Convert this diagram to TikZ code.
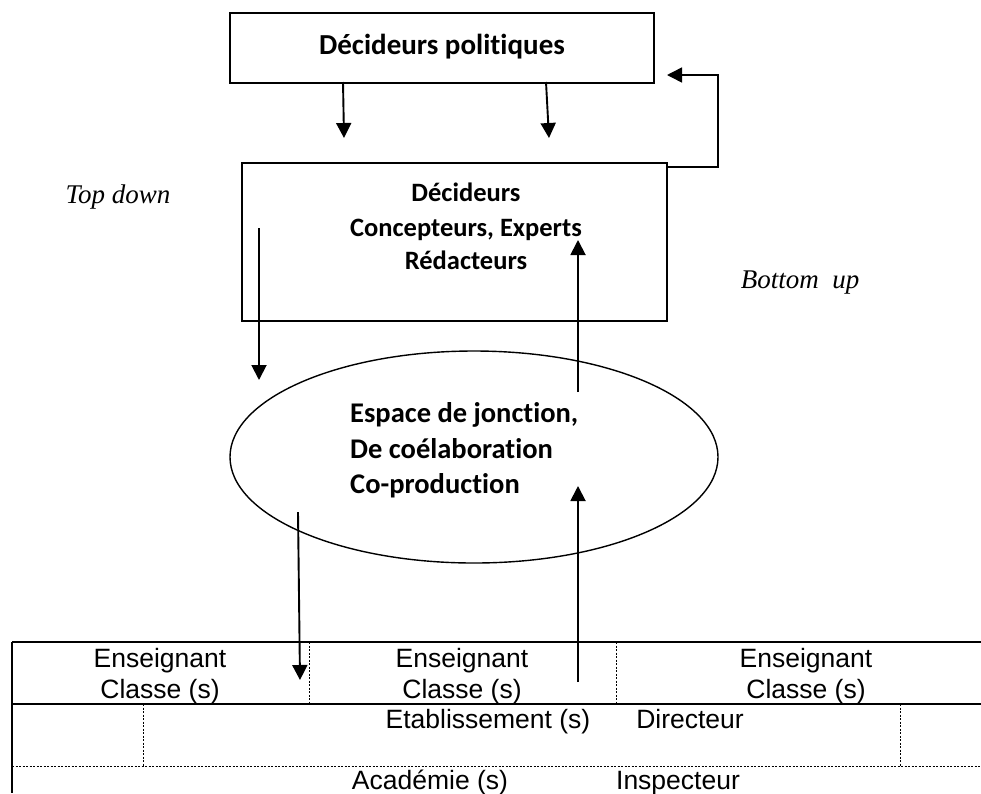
\documentclass[tikz,border=0pt]{standalone}
\usepackage{fontspec}
\setmainfont{Liberation Sans}
\newfontfamily\calb{Carlito}[RawFeature=-liga]
\newfontfamily\tms{Liberation Serif}
\usetikzlibrary{shapes.geometric,arrows.meta}
\begin{document}
\begin{tikzpicture}[x=1pt,y=-1pt,
  boxst/.style={draw,line width=1.8pt,inner sep=0pt},
  btext/.style={font=\calb\bfseries\fontsize{#1}{#1}\selectfont,anchor=base,inner sep=0pt},
  etext/.style={font=\calb\bfseries\fontsize{28.5}{28.5}\selectfont,anchor=base west,inner sep=0pt},
  ttext/.style={font=\fontsize{26.5}{26.5}\selectfont,anchor=base,inner sep=0pt},
  itext/.style={font=\tms\itshape\fontsize{27}{27}\selectfont,inner sep=0pt},
  arr/.style={line width=1.9pt,-{Triangle[length=15pt,width=15pt]}},
  farr/.style={line width=1.5pt,-{Triangle[length=15pt,width=15pt]}},
  solidl/.style={line width=1.9pt},
  dashl/.style={line width=0.8pt,dash pattern=on 2pt off 1.5pt}]
\useasboundingbox (0,0) rectangle (981,793);
\fill[white] (0,0) rectangle (981,793);
% top box
\node[boxst,minimum width=424pt,minimum height=70pt] (b1) at (442,48) {};
\node[btext=29] (t1) at (442,54) {Décideurs politiques};
% second box
\node[boxst,minimum width=425pt,minimum height=158pt] (b2) at (454.5,242) {};
\node[btext=26.5] (t2a) at (466,201) {Décideurs};
\node[btext=26.5] (t2b) at (466,236) {Concepteurs, Experts};
\node[btext=26.5] (t2c) at (466,269) {Rédacteurs};
% ellipse
\node[draw,ellipse,line width=1.4pt,minimum width=488pt,minimum height=212pt,inner sep=0pt] (e) at (474,457) {};
\node[etext] (e1) at (350,422) {Espace de jonction,};
\node[etext] (e2) at (350,458) {De coélaboration};
\node[etext] (e3) at (350,493) {Co-production};
% labels
\node[itext] (td) at (118,197) {Top down};
\node[itext] (bu) at (800,283) {Bottom\ \ up};
% arrow coordinates
\coordinate (a1s) at (343,82);  \coordinate (a1e) at (344,138);
\coordinate (a2s) at (546,82);  \coordinate (a2e) at (549,138);
\coordinate (a3s) at (259,228); \coordinate (a3e) at (259,380);
\coordinate (a4s) at (578,392); \coordinate (a4e) at (578,240);
\coordinate (a5s) at (298,512); \coordinate (a5e) at (300,680);
\coordinate (a6s) at (578,682); \coordinate (a6e) at (578,486);
\coordinate (f0) at (667,167); \coordinate (f1) at (718,167);
\coordinate (f2) at (718,75);  \coordinate (f3) at (667,75);
\draw[arr] (a1s) -- (a1e);
\draw[arr] (a2s) -- (a2e);
\draw[arr] (a3s) -- (a3e);
\draw[arr] (a4s) -- (a4e);
\draw[arr] (a5s) -- (a5e);
\draw[arr] (a6s) -- (a6e);
\draw[farr] (f0) -- (f1) -- (f2) -- (f3);
% table
\coordinate (tl) at (12,642); \coordinate (tr) at (981,642);
\coordinate (ml) at (12,704); \coordinate (mr) at (981,704);
\coordinate (dl) at (12,766); \coordinate (dr) at (981,766);
\coordinate (bl) at (12,793);
\draw[solidl] (tl) -- (tr);
\draw[solidl] (ml) -- (mr);
\draw[solidl] (tl) -- (bl);
\draw[dashl] (dl) -- (dr);
\draw[dashl] (309,642) -- (309,704);
\draw[dashl] (616,642) -- (616,704);
\draw[dashl] (143,704) -- (143,766);
\draw[dashl] (900,704) -- (900,766);
\node[ttext] (c1a) at (160,667) {Enseignant};
\node[ttext] (c1b) at (160,698) {Classe (s)};
\node[ttext] (c2a) at (462,667) {Enseignant};
\node[ttext] (c2b) at (462,698) {Classe (s)};
\node[ttext] (c3a) at (806,667) {Enseignant};
\node[ttext] (c3b) at (806,698) {Classe (s)};
\node[ttext] (r2a) at (488,728) {Etablissement (s)};
\node[ttext] (r2b) at (690,728) {Directeur};
\node[ttext] (r3a) at (430,789) {Académie (s)};
\node[ttext] (r3b) at (678,789) {Inspecteur};
\end{tikzpicture}
\end{document}
